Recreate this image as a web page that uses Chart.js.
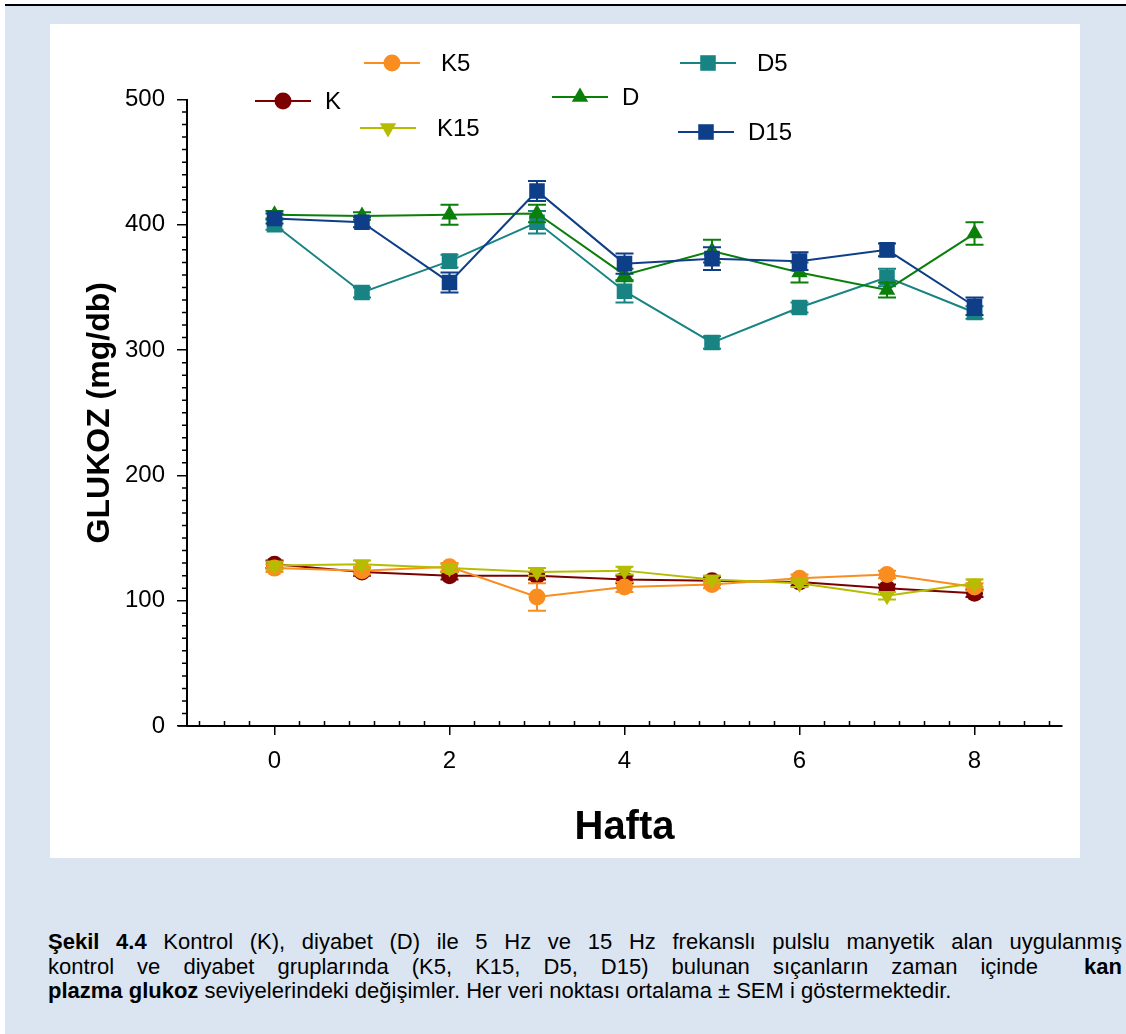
<!DOCTYPE html>
<html lang="tr">
<head>
<meta charset="utf-8">
<title>Şekil 4.4 – Kan plazma glukoz</title>
<script src="https://cdn.jsdelivr.net/npm/chart.js@4.4.1/dist/chart.umd.min.js"></script>
<style>
  html, body { margin: 0; padding: 0; background: #fff; }
  body { width: 1126px; height: 1034px; position: relative; overflow: hidden; font-family: Arial, "Liberation Sans", sans-serif; }
  .rule { position: absolute; left: 5px; right: 0; top: 4px; height: 2px; background: #000; }
  .sheet { position: absolute; left: 5px; right: 0; top: 6px; bottom: 0; background: #dbe5f1; }
  .panel { position: absolute; left: 50px; top: 24px; width: 1030px; height: 834px; background: #fff; }
  .caption { position: absolute; left: 48px; top: 930px; width: 1074px; font-size: 22px; line-height: 24.5px; color: #000; }
  .caption span { display: block; text-align: justify; text-align-last: justify; }
  .caption span.last { text-align-last: left; }
</style>
</head>
<body>
<div class="rule"></div>
<div class="sheet"></div>
<div class="panel"><canvas id="chart" width="1030" height="834"></canvas></div>
<div class="caption">
  <span><b>Şekil 4.4</b> Kontrol (K), diyabet (D) ile 5 Hz ve 15 Hz frekanslı pulslu manyetik alan uygulanmış</span>
  <span>kontrol ve diyabet gruplarında (K5, K15, D5, D15) bulunan sıçanların zaman içinde &nbsp;<b>kan</b></span>
  <span class="last"><b>plazma glukoz</b> seviyelerindeki değişimler. Her veri noktası ortalama ± SEM i göstermektedir.</span>
</div>

<script>
// ── Data ────────────────────────────────────────────────────

const weeks = [0, 1, 2, 3, 4, 5, 6, 7, 8];

// mean glucose, mg/db
const K   = [129, 123, 120, 120, 117, 116, 115, 110, 106];
const K5  = [126, 124, 127, 103, 111, 113, 118, 121, 111];
const K15 = [128, 129, 126, 123, 124, 117, 114, 104, 114];
const D   = [408, 407, 408, 409, 360, 379, 362, 348, 393];
const D5  = [400, 346, 371, 402, 347, 306, 334, 358, 330];
const D15 = [405, 402, 354, 427, 369, 373, 371, 380, 335];

// SEM
const K_sem   = [3, 3, 3, 3, 3, 3, 3, 3, 3];
const K5_sem  = [3, 3, 3, 11, 4, 3, 3, 3, 3];
const K15_sem = [3, 3, 3, 3, 3, 3, 3, 3, 3];
const D_sem   = [3, 3, 8, 7, 5, 9, 8, 6, 9];
const D5_sem  = [4, 4, 5, 9, 9, 5, 4, 7, 5];
const D15_sem = [4, 4, 8, 8, 8, 9, 7, 5, 7];

const xTicks = [0, 2, 4, 6, 8];
const yTicks = [0, 100, 200, 300, 400, 500];

// ── Styling ─────────────────────────────────────────────────

const COLORS = {
  K: "#7d0000",
  K5: "#f98d1f",
  K15: "#b6bd00",
  D: "#0a7f0a",
  D5: "#178383",
  D15: "#0f3e88",
};

const FONT = "Arial, 'Liberation Sans', sans-serif";
const CAP = 9; // half width of error bar caps

function series(label, values, sem, style, extra = {}) {
  return {
    label,
    data: weeks.map((w, i) => ({ x: w, y: values[i] })),
    sem,
    borderColor: COLORS[label],
    backgroundColor: COLORS[label],
    borderWidth: 2,
    pointStyle: style,
    pointRadius: 8.5,
    pointBorderWidth: 0,
    tension: 0,
    ...extra,
  };
}

// dataset 0 is painted last, so it sits on top
const datasets = [
  series("K15", K15, K15_sem, "triangle", { pointRotation: 180, pointRadius: 9.5 }),
  series("K5", K5, K5_sem, "circle"),
  series("K", K, K_sem, "circle"),
  series("D15", D15, D15_sem, "rect", { pointRadius: 11 }),
  series("D", D, D_sem, "triangle", { pointRadius: 9.5 }),
  series("D5", D5, D5_sem, "rect", { pointRadius: 11 }),
];

// legend is laid out freely on the plot, as in the original figure
const legendItems = [
  { label: "K5", x: 342, y: 39, textX: 391 },
  { label: "K", x: 233, y: 77, textX: 275 },
  { label: "K15", x: 338, y: 104, textX: 387 },
  { label: "D", x: 530, y: 73, textX: 572 },
  { label: "D5", x: 658, y: 39, textX: 707 },
  { label: "D15", x: 656, y: 108, textX: 698 },
];

// ── Plugins ─────────────────────────────────────────────────

const errorBars = {
  id: "errorBars",
  beforeDatasetDraw(chart, args) {
    const ds = chart.data.datasets[args.index];
    if (!ds.sem) return;
    const { ctx } = chart;
    const y = chart.scales.y;
    ctx.save();
    ctx.strokeStyle = ds.borderColor;
    ctx.lineWidth = 2;
    args.meta.data.forEach((pt, i) => {
      const v = ds.data[i].y;
      const top = y.getPixelForValue(v + ds.sem[i]);
      const bot = y.getPixelForValue(v - ds.sem[i]);
      ctx.beginPath();
      ctx.moveTo(pt.x, top);
      ctx.lineTo(pt.x, bot);
      ctx.moveTo(pt.x - CAP, top);
      ctx.lineTo(pt.x + CAP, top);
      ctx.moveTo(pt.x - CAP, bot);
      ctx.lineTo(pt.x + CAP, bot);
      ctx.stroke();
    });
    ctx.restore();
  },
};

const axisDetails = {
  id: "axisDetails",
  afterDraw(chart) {
    const { ctx } = chart;
    const { x, y } = chart.scales;
    const base = y.getPixelForValue(0);

    ctx.save();
    ctx.strokeStyle = "#000";
    ctx.lineWidth = 1.5;
    ctx.beginPath();
    // x axis pokes out a little left of the y axis
    ctx.moveTo(x.left - 9, base);
    ctx.lineTo(x.left, base);
    // minor ticks: x inside (up), y outside (left)
    for (let k = -3; k * 2 / 7 <= x.max; k++) {
      if (k % 7 === 0) continue;
      const px = x.getPixelForValue(k * 2 / 7);
      ctx.moveTo(px, base);
      ctx.lineTo(px, base - 5);
    }
    for (let v = 10; v < y.max; v += 10) {
      if (v % 100 === 0) continue;
      const py = y.getPixelForValue(v);
      ctx.moveTo(x.left, py);
      ctx.lineTo(x.left - 5, py);
    }
    ctx.stroke();

    // legend
    ctx.font = `24px ${FONT}`;
    ctx.textBaseline = "middle";
    ctx.textAlign = "left";
    legendItems.forEach((item) => {
      const ds = chart.data.datasets.find((d) => d.label === item.label);
      ctx.strokeStyle = ds.borderColor;
      ctx.lineWidth = 2;
      ctx.beginPath();
      ctx.moveTo(item.x - 28, item.y);
      ctx.lineTo(item.x + 28, item.y);
      ctx.stroke();
      ctx.fillStyle = ds.backgroundColor;
      Chart.helpers.drawPoint(ctx, {
        pointStyle: ds.pointStyle,
        radius: ds.pointRadius,
        rotation: ds.pointRotation || 0,
        borderWidth: 0,
      }, item.x, item.y);
      ctx.fillStyle = "#000";
      ctx.fillText(item.label, item.textX, item.y + 1);
    });
    ctx.restore();
  },
};

// ── Chart ───────────────────────────────────────────────────

new Chart(document.getElementById("chart"), {
  type: "line",
  data: { datasets },
  plugins: [errorBars, axisDetails],
  options: {
    responsive: false,
    animation: false,
    layout: { padding: { top: 75.5, right: 18, bottom: 0, left: 0 } },
    plugins: { legend: { display: false }, tooltip: { enabled: false } },
    scales: {
      x: {
        type: "linear",
        min: -1,
        max: 9,
        afterBuildTicks: (s) => { s.ticks = xTicks.map((v) => ({ value: v })); },
        afterFit: (s) => { s.height = 132; },
        grid: { drawOnChartArea: false, drawTicks: true, tickLength: 9, color: "#000", lineWidth: 1.5 },
        border: { display: true, color: "#000", width: 2 },
        ticks: { color: "#000", font: { family: FONT, size: 24 }, padding: 12, maxRotation: 0 },
        title: {
          display: true,
          text: "Hafta",
          color: "#000",
          font: { family: FONT, size: 40, weight: "bold" },
          padding: { top: 0, bottom: 6 },
        },
      },
      y: {
        min: 0,
        max: 500,
        afterBuildTicks: (s) => { s.ticks = yTicks.map((v) => ({ value: v })); },
        afterFit: (s) => { s.width = 137; },
        grid: { drawOnChartArea: false, drawTicks: true, tickLength: 10, color: "#000", lineWidth: 1.5 },
        border: { display: true, color: "#000", width: 2 },
        ticks: { color: "#000", font: { family: FONT, size: 24 }, padding: 12 },
        title: {
          display: true,
          text: "GLUKOZ (mg/db)",
          color: "#000",
          font: { family: FONT, size: 32, weight: "bold" },
          padding: { top: 31, bottom: 0 },
        },
      },
    },
  },
});
</script>
</body>
</html>
